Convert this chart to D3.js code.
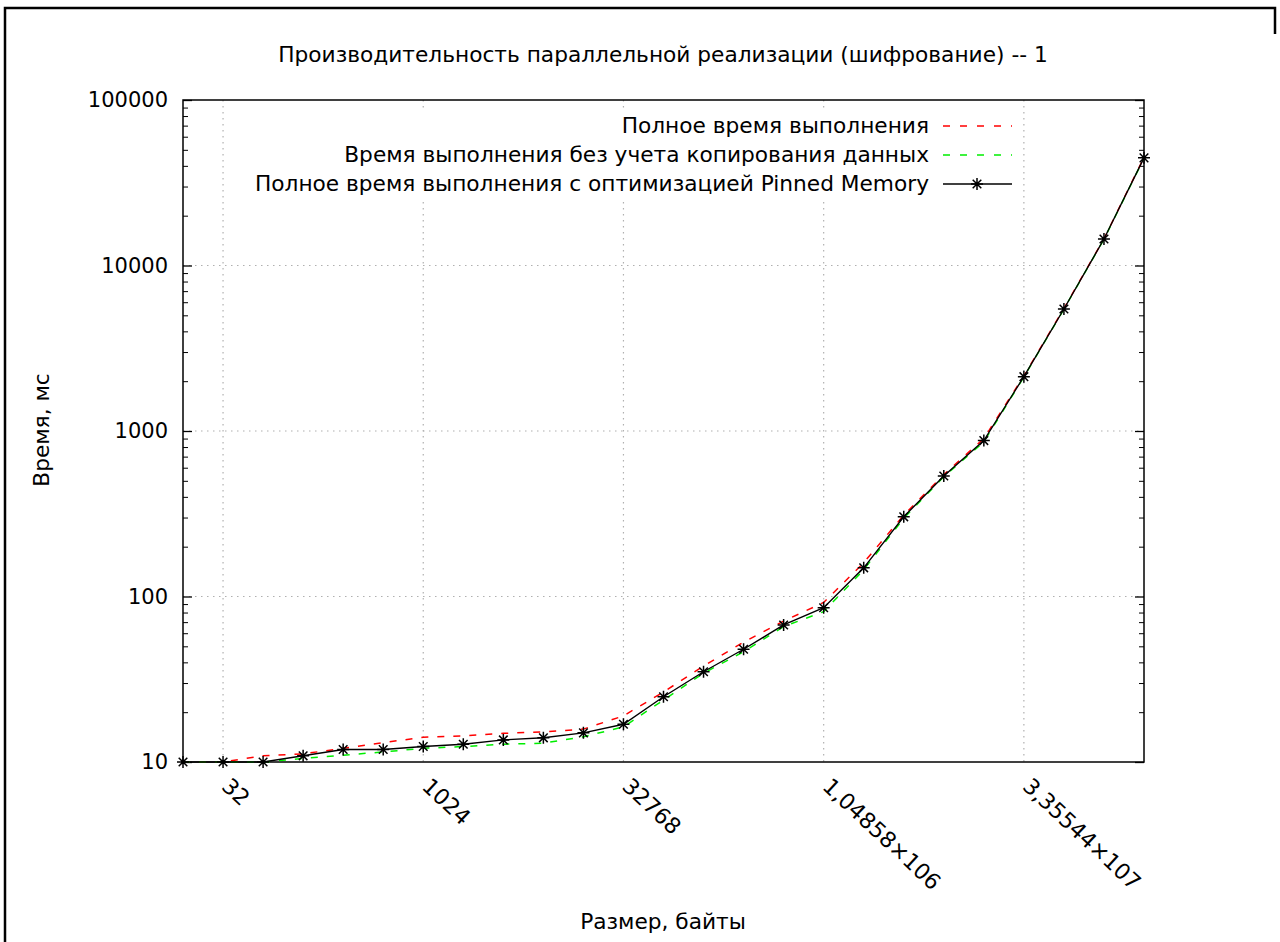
<html>
<head>
<meta charset="utf-8">
<title>chart</title>
<script src="https://cdn.jsdelivr.net/npm/d3@7"></script>
<style>
body { margin:0; background:#fff; }
text { font-family: "DejaVu Sans", sans-serif; fill:#000; }
</style>
</head>
<body>
<svg id="chart" width="1280" height="942"></svg>
<script>
// sizes in bytes (x) and times in ms (y)
var sizes = [16, 32, 64, 128, 256, 512, 1024, 2048, 4096, 8192, 16384, 32768, 65536,
  131072, 262144, 524288, 1048576, 2097152, 4194304, 8388608, 16777216,
  33554432, 67108864, 134217728, 268435456];

var full_time = [10, 10, 10.9, 11.2, 12.1, 13.1, 14.1, 14.4, 14.9, 15.2, 15.8, 19, 26.5,
  38, 53, 71, 92, 160, 310, 545, 900, 2150, 5500, 14500, 45000];
var no_copy_time = [10, 10, 10, 10.5, 11.0, 11.5, 12.1, 12.4, 12.8, 13.0, 14.2, 16.3, 23.7,
  34.4, 46.4, 65.8, 81, 145, 297, 530, 860, 2120, 5450, 14400, 44500];
var pinned_time = [10, 10, 10, 10.9, 11.9, 11.9, 12.4, 12.8, 13.6, 14.0, 15.0, 16.9, 24.8,
  35.1, 48, 67.3, 85.5, 149, 303, 535, 875, 2130, 5460, 14450, 44700];

var x_ticks = [32, 1024, 32768, 1048576, 33554432];
var x_tick_labels = ["32", "1024", "32768", "1,04858×106", "3,35544×107"];
var y_ticks = [10, 100, 1000, 10000, 100000];
var y_tick_labels = ["10", "100", "1000", "10000", "100000"];

var series_names = ["Полное время выполнения",
  "Время выполнения без учета копирования данных",
  "Полное время выполнения с оптимизацией Pinned Memory"];

var plot_left = 183, plot_right = 1144, plot_top = 100, plot_bottom = 762;

var svg = d3.select("#chart");

// outer frame of the screenshot
svg.append("path").attr("d", "M5 942 V8 H1275 V34")
  .style("fill", "none").style("stroke", "#000").style("stroke-width", 2.5);

var x = d3.scaleLog().base(2).domain([16, 268435456]).range([plot_left, plot_right]);
var y = d3.scaleLog().domain([10, 100000]).range([plot_bottom, plot_top]);

// minor y ticks
var y_minor = [];
y_ticks.slice(0, -1).forEach(function (d) {
  for (var k = 2; k < 10; k++) y_minor.push(d * k);
});

// grid
var grid = svg.append("g").style("stroke", "#b0b0b0").style("stroke-width", 1.2)
  .style("stroke-dasharray", "1.5,4.5");
grid.selectAll("line.gx").data(x_ticks).enter().append("line")
  .attr("x1", function (d) { return x(d); }).attr("x2", function (d) { return x(d); })
  .attr("y1", plot_top).attr("y2", plot_bottom);
grid.selectAll("line.gy").data(y_ticks.slice(1, -1)).enter().append("line")
  .attr("y1", function (d) { return y(d); }).attr("y2", function (d) { return y(d); })
  .attr("x1", plot_left).attr("x2", plot_right);

// y axes (inward ticks both sides)
var yl = svg.append("g").attr("transform", "translate(" + plot_left + ",0)")
  .call(d3.axisLeft(y).tickValues(y_ticks).tickSize(-9).tickPadding(15)
    .tickFormat(function (d, i) { return y_tick_labels[i]; }));
yl.select(".domain").remove();
yl.selectAll("text").style("font-size", "21px").style("font-family", "DejaVu Sans");
yl.selectAll("line").style("stroke-width", 1.3);

var ylm = svg.append("g").attr("transform", "translate(" + plot_left + ",0)")
  .call(d3.axisLeft(y).tickValues(y_minor).tickSize(-5).tickFormat(""));
ylm.select(".domain").remove();

var yr = svg.append("g").attr("transform", "translate(" + plot_right + ",0)")
  .call(d3.axisRight(y).tickValues(y_ticks).tickSize(-9).tickFormat(""));
yr.select(".domain").remove();
yr.selectAll("line").style("stroke-width", 1.3);
var yrm = svg.append("g").attr("transform", "translate(" + plot_right + ",0)")
  .call(d3.axisRight(y).tickValues(y_minor).tickSize(-5).tickFormat(""));
yrm.select(".domain").remove();

// x axis labels, rotated
var xa = svg.append("g").attr("transform", "translate(0," + plot_bottom + ")")
  .call(d3.axisBottom(x).tickValues(x_ticks).tickSize(0)
    .tickFormat(function (d, i) { return x_tick_labels[i]; }));
xa.select(".domain").remove();
xa.selectAll("text")
  .attr("y", 0).attr("dy", 0)
  .attr("text-anchor", "start")
  .attr("transform", "translate(-3,26) rotate(43)")
  .style("font-size", "22px").style("font-family", "DejaVu Sans");

// legend background (opaque)
svg.append("rect").attr("x", 242).attr("y", 109).attr("width", 778).attr("height", 90)
  .style("fill", "#fff");

// frame
svg.append("rect").attr("x", plot_left).attr("y", plot_top)
  .attr("width", plot_right - plot_left).attr("height", plot_bottom - plot_top)
  .style("fill", "none").style("stroke", "#000").style("stroke-width", 1.5);

// lines
var line_gen = d3.line().x(function (d, i) { return x(sizes[i]); }).y(function (d) { return y(d); });

svg.append("path").datum(full_time).attr("d", line_gen)
  .style("fill", "none").style("stroke", "#ff0000").style("stroke-width", 1.5)
  .style("stroke-dasharray", "7,9");
svg.append("path").datum(no_copy_time).attr("d", line_gen)
  .style("fill", "none").style("stroke", "#00ee00").style("stroke-width", 1.5)
  .style("stroke-dasharray", "7,9");
svg.append("path").datum(pinned_time).attr("d", line_gen)
  .style("fill", "none").style("stroke", "#000").style("stroke-width", 1.4);

var star = "M-6,0H6M0,-6V6M-4.3,-4.3L4.3,4.3M-4.3,4.3L4.3,-4.3";
svg.append("g").selectAll("path").data(pinned_time).enter().append("path")
  .attr("transform", function (d, i) { return "translate(" + x(sizes[i]) + "," + y(d) + ")"; })
  .attr("d", star).style("stroke", "#000").style("stroke-width", 1.5).style("fill", "none");

// legend
var leg_y = [126, 155, 184];
var leg_color = ["#ff0000", "#00ee00", "#000"];
var leg_dash = ["7,10", "7,10", "none"];
var leg = svg.append("g");
leg.selectAll("text").data(series_names).enter().append("text")
  .attr("x", 929).attr("y", function (d, i) { return leg_y[i] + 7; })
  .attr("text-anchor", "end").style("font-size", "21.7px")
  .text(function (d) { return d; });
leg.selectAll("line").data(series_names).enter().append("line")
  .attr("x1", 943).attr("x2", 1012)
  .attr("y1", function (d, i) { return leg_y[i]; }).attr("y2", function (d, i) { return leg_y[i]; })
  .style("stroke", function (d, i) { return leg_color[i]; })
  .style("stroke-width", 1.5)
  .style("stroke-dasharray", function (d, i) { return leg_dash[i]; });
leg.append("path").attr("transform", "translate(977," + leg_y[2] + ")")
  .attr("d", star).style("stroke", "#000").style("stroke-width", 1.5).style("fill", "none");

// title and axis labels
svg.append("text").attr("x", 663).attr("y", 62).attr("text-anchor", "middle")
  .style("font-size", "21.7px")
  .text("Производительность параллельной реализации (шифрование) -- 1");
svg.append("text").attr("x", 663).attr("y", 929).attr("text-anchor", "middle")
  .style("font-size", "21.7px").text("Размер, байты");
svg.append("text").attr("transform", "translate(49,430) rotate(-90)")
  .attr("text-anchor", "middle").style("font-size", "21.7px").text("Время, мс");
</script>
</body>
</html>
